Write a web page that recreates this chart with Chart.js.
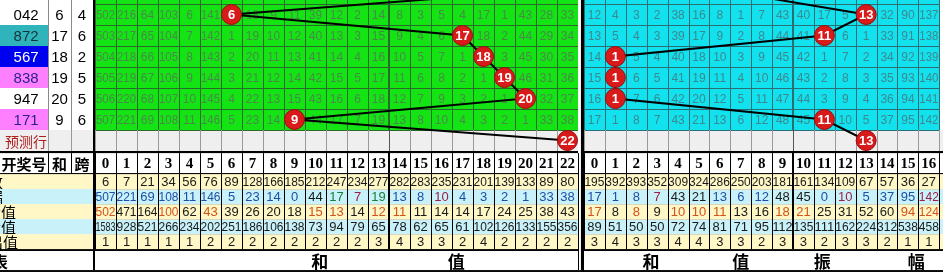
<!DOCTYPE html>
<html>
<head>
<meta charset="utf-8">
<script src="https://cdn.jsdelivr.net/npm/chart.js@4.4.1/dist/chart.umd.min.js"></script>
<style>
  html, body { margin: 0; padding: 0; background: #fff; overflow: hidden; }
</style>
</head>
<body>
<canvas id="trendChart" width="943" height="274"></canvas>
<script>
// ---- data ----
const drawNumbers = ['042', '872', '567', '838', '947', '171'];
const sums = [6, 17, 18, 19, 20, 9];
const spans = [4, 6, 2, 5, 5, 6];
const amps = [13, 11, 1, 1, 1, 11];
const prevSum = 19;      // row just above the visible area
const prevAmp = 7;
const predictSum = 22;
const predictAmp = 13;

const sumCols = ['0','1','2','3','4','5','6','7','8','9','10','11','12','13','14','15','16','17','18','19','20','21','22'];
const ampCols = ['0','1','2','3','4','5','6','7','8','9','10','11','12','13','14','15','16'];

// omission values in the grid (null = hit, drawn as a ball)
const sumMiss = [
  [502,216,64,103,6,141,null,18,9,11,39,12,2,14,8,3,5,4,17,1,43,28,33],
  [503,217,65,104,7,142,1,19,10,12,40,13,3,15,9,4,6,null,18,2,44,29,34],
  [504,218,66,105,8,143,2,20,11,13,41,14,4,16,10,5,7,1,null,3,45,30,35],
  [505,219,67,106,9,144,3,21,12,14,42,15,5,17,11,6,8,2,1,null,46,31,36],
  [506,220,68,107,10,145,4,22,13,15,43,16,6,18,12,7,9,3,2,1,null,32,37],
  [507,221,69,108,11,146,5,23,14,null,44,17,7,19,13,8,10,4,3,2,1,33,38]
];
const ampMiss = [
  [12,4,3,2,38,16,8,1,7,43,40,17,5,null,32,90,137],
  [13,5,4,3,39,17,9,2,8,44,41,null,6,1,33,91,138],
  [14,null,5,4,40,18,10,3,9,45,42,1,7,2,34,92,139],
  [15,null,6,5,41,19,11,4,10,46,43,2,8,3,35,93,140],
  [16,null,7,6,42,20,12,5,11,47,44,3,9,4,36,94,141],
  [17,1,8,7,43,21,13,6,12,48,45,null,10,5,37,95,142]
];

const statLabels = ['出现次数', '当前遗漏', '平均遗漏值', '最大遗漏值', '最大连出值'];
const sumCount   = [6,7,21,34,56,76,89,128,166,185,212,247,234,277,282,283,235,231,201,139,133,89,80];
const sumCurMiss = [507,221,69,108,11,146,5,23,14,0,44,17,7,19,13,8,10,4,3,2,1,33,38];
const sumAvgMiss = [502,471,164,100,62,43,39,26,20,18,15,13,14,12,11,11,14,14,17,24,25,38,43];
const sumMaxMiss = [1583,928,521,266,234,202,251,186,106,138,73,94,79,65,78,62,65,61,102,126,133,155,356];
const sumMaxRun  = [1,1,1,1,1,2,2,2,2,2,2,2,2,3,4,3,3,2,4,2,2,2,2];
const ampCount   = [195,392,393,352,309,324,286,250,203,181,161,134,109,67,57,36,27];
const ampCurMiss = [17,1,8,7,43,21,13,6,12,48,45,0,10,5,37,95,142];
const ampAvgMiss = [17,8,8,9,10,10,11,13,16,18,21,25,31,52,60,94,124];
const ampMaxMiss = [89,51,50,50,72,74,81,71,95,112,135,111,162,224,312,538,458];
const ampMaxRun  = [3,4,3,3,4,4,3,3,2,3,3,2,3,3,2,1,1];

// ---- styles ----
const B = '#1d4fa6', K = '#1a1a1a', G = '#17803a', R = '#9c2046', O = '#d4521c';
const sumCurMissColors = [B,B,B,B,B,B,B,B,B,B,K,G,R,G,B,B,R,B,B,B,B,B,B];
const sumAvgMissColors = [O,K,K,O,K,O,K,K,K,K,O,O,K,O,O,K,K,K,K,K,K,K,K];
const ampCurMissColors = [B,B,B,R,K,K,B,B,B,K,K,B,R,B,B,B,R];
const ampAvgMissColors = [O,K,O,K,O,O,O,K,K,O,O,K,K,K,K,O,O];
const numBgColors = ['#ffffff', '#30b4bc', '#0000f0', '#ff80ff', '#ffffff', '#ff80ff'];
const numTextColors = ['#000000', '#17323a', '#ffffff', '#2a1f8c', '#000000', '#2a1f8c'];

// ---- layout in scale units (1 unit = one grid column / one data row) ----
const X_MIN = -95 / 21, X_MAX = 848 / 21;
const AMP_X0 = 489 / 21;
const AMP_W = 20.9 / 21;
const LEFT_COLS = [[X_MIN, -47 / 21], [-47 / 21, -24 / 21], [-24 / 21, -2 / 21]];
const Y_MIN = -4 / 21, Y_MAX = 270 / 21;
const PRED = [6, 7];
const HEAD = [7.1, 8.05];
const STAT_TOP = 8.1, STAT_H = 15 / 21;
const BOTTOM = [STAT_TOP + 5 * STAT_H + 0.09, 12.67];

const sumCenter = v => v + 0.5;
const ampCenter = v => AMP_X0 + v * AMP_W + AMP_W / 2;

const sumPoints = [{ x: sumCenter(prevSum), y: -0.5 }]
  .concat(sums.map((s, i) => ({ x: sumCenter(s), y: i + 0.5 })))
  .concat([{ x: sumCenter(predictSum), y: 6.5 }]);
const ampPoints = [{ x: ampCenter(prevAmp), y: -0.5 }]
  .concat(amps.map((a, i) => ({ x: ampCenter(a), y: i + 0.5 })))
  .concat([{ x: ampCenter(predictAmp), y: 6.5 }]);
const sumBallText = [''].concat(sums.map(String), [String(predictSum)]);
const ampBallText = [''].concat(amps.map(String), [String(predictAmp)]);

const tablePlugin = {
  id: 'trendTable',
  beforeDatasetsDraw(chart) {
    const { ctx } = chart;
    const xs = chart.scales.x, ys = chart.scales.y;
    const X = v => xs.getPixelForValue(v);
    const Y = v => ys.getPixelForValue(v);

    function rect(x0, x1, y0, y1, fill) {
      ctx.fillStyle = fill;
      ctx.fillRect(X(x0), Y(y0), X(x1) - X(x0), Y(y1) - Y(y0));
    }
    function vline(xv, y0, y1, color, w) {
      const p = Math.round(X(xv)) + (w % 2 ? 0.5 : 0);
      ctx.strokeStyle = color; ctx.lineWidth = w;
      ctx.beginPath(); ctx.moveTo(p, Y(y0)); ctx.lineTo(p, Y(y1)); ctx.stroke();
    }
    function hline(yv, x0, x1, color, w) {
      const p = Math.round(Y(yv)) + (w % 2 ? 0.5 : 0);
      ctx.strokeStyle = color; ctx.lineWidth = w;
      ctx.beginPath(); ctx.moveTo(X(x0), p); ctx.lineTo(X(x1), p); ctx.stroke();
    }
    function text(str, xc, yc, font, color, maxW, align) {
      ctx.font = font; ctx.fillStyle = color;
      ctx.textAlign = align || 'center'; ctx.textBaseline = 'middle';
      if (maxW) ctx.fillText(str, X(xc), Y(yc) + 1, maxW); else ctx.fillText(str, X(xc), Y(yc) + 1);
    }

    ctx.save();
    rect(X_MIN, X_MAX, Y_MIN, Y_MAX, '#ffffff');

    const blocks = [
      { x0: 0, w: 1, cols: sumCols, miss: sumMiss, fill: '#14e414', grid: '#2a6a2a', faint: '#4a884a', divider: 14,
        stats: [sumCount, sumCurMiss, sumAvgMiss, sumMaxMiss, sumMaxRun],
        colors: [null, sumCurMissColors, sumAvgMissColors, null, null] },
      { x0: AMP_X0, w: AMP_W, cols: ampCols, miss: ampMiss, fill: '#12e2ee', grid: '#2b6f76', faint: '#3f8790', divider: 10,
        stats: [ampCount, ampCurMiss, ampAvgMiss, ampMaxMiss, ampMaxRun],
        colors: [null, ampCurMissColors, ampAvgMissColors, null, null] }
    ];

    // left columns of the data rows
    for (let r = -1; r < drawNumbers.length; r++) {
      const bg = r < 0 ? '#ffffff' : numBgColors[r];
      rect(LEFT_COLS[0][0], LEFT_COLS[0][1], r, r + 1, bg);
      rect(LEFT_COLS[1][0], LEFT_COLS[2][1], r, r + 1, '#ffffff');
      hline(r + 1, X_MIN, LEFT_COLS[2][1], '#8a8a8a', 1);
      if (r >= 0) {
        text(drawNumbers[r], (LEFT_COLS[0][0] + LEFT_COLS[0][1]) / 2 + 0.1, r + 0.5, '15px "Liberation Sans"', numTextColors[r]);
        text(String(sums[r]), (LEFT_COLS[1][0] + LEFT_COLS[1][1]) / 2, r + 0.5, '15px "Liberation Sans"', '#000');
        text(String(spans[r]), (LEFT_COLS[2][0] + LEFT_COLS[2][1]) / 2, r + 0.5, '15px "Liberation Sans"', '#000');
      }
    }
    vline(LEFT_COLS[1][0], -1, 6, '#8a8a8a', 1);
    vline(LEFT_COLS[2][0], -1, 6, '#8a8a8a', 1);

    // predict row
    rect(X_MIN, X_MAX, PRED[0], PRED[1], '#efefef');
    text('预测行', (LEFT_COLS[0][0] + LEFT_COLS[0][1]) / 2 + 0.1, 6.5, '14px "Noto Sans CJK SC"', '#b01c1c');
    vline(LEFT_COLS[1][0], PRED[0], PRED[1], '#9a9a9a', 1);
    vline(LEFT_COLS[2][0], PRED[0], PRED[1], '#9a9a9a', 1);

    // header row
    rect(X_MIN, X_MAX, HEAD[0], HEAD[1], '#ffffff');
    text('开奖号', (LEFT_COLS[0][0] + LEFT_COLS[0][1]) / 2, (HEAD[0] + HEAD[1]) / 2, 'bold 15px "Noto Sans CJK SC"', '#000');
    text('和', (LEFT_COLS[1][0] + LEFT_COLS[1][1]) / 2, (HEAD[0] + HEAD[1]) / 2, 'bold 15px "Noto Sans CJK SC"', '#000');
    text('跨', (LEFT_COLS[2][0] + LEFT_COLS[2][1]) / 2, (HEAD[0] + HEAD[1]) / 2, 'bold 15px "Noto Sans CJK SC"', '#000');
    vline(LEFT_COLS[1][0], HEAD[0], HEAD[1], '#000', 1);
    vline(LEFT_COLS[2][0], HEAD[0], HEAD[1], '#000', 1);

    // stat rows
    for (let s = 0; s < statLabels.length; s++) {
      const y0 = STAT_TOP + s * STAT_H, y1 = y0 + STAT_H;
      rect(X_MIN, X_MAX, y0, y1, s % 2 ? '#c9f1f9' : '#fff7c6');
      const rightEdge = s < 2 ? 3 : (s === 4 ? 18 : 16);
      ctx.font = '15px "Noto Sans CJK SC"';
      ctx.fillStyle = '#000'; ctx.textAlign = 'right'; ctx.textBaseline = 'middle';
      ctx.fillText(statLabels[s], rightEdge, Y(y0 + STAT_H / 2) + 1);
    }

    // bottom label row
    rect(X_MIN, X_MAX, BOTTOM[0], BOTTOM[1], '#ffffff');
    ctx.font = 'bold 16px "Noto Sans CJK SC"';
    ctx.fillStyle = '#000'; ctx.textAlign = 'right'; ctx.textBaseline = 'middle';
    ctx.fillText('和值走势表', 8, Y((BOTTOM[0] + BOTTOM[1]) / 2) + 1);

    blocks.forEach(b => {
      const n = b.cols.length;
      const cx = c => b.x0 + c * b.w;
      const x1 = cx(n);
      // data rows
      rect(b.x0, x1, -1, 6, b.fill);
      for (let r = 0; r < b.miss.length; r++) {
        b.miss[r].forEach((v, c) => {
          if (v !== null) text(String(v), cx(c) + b.w / 2, r + 0.5, '12px "Liberation Sans"', b.faint, 19);
        });
      }
      for (let r = 0; r <= 6; r++) hline(r, b.x0, x1, b.grid, 1);
      for (let c = 0; c <= n; c++) vline(cx(c), -1, 6, b.grid, c === b.divider ? 2 : 1);
      // predict row grid
      for (let c = 0; c <= n; c++) vline(cx(c), PRED[0], PRED[1], c === b.divider ? '#555' : '#9a9a9a', 1);
      // header
      b.cols.forEach((lab, c) => text(lab, cx(c) + b.w / 2, (HEAD[0] + HEAD[1]) / 2, 'bold 15px "Liberation Serif"', '#000', 20));
      for (let c = 0; c <= n; c++) vline(cx(c), HEAD[0], HEAD[1], '#000', c === b.divider ? 2 : 1);
      // stats
      b.stats.forEach((row, s) => {
        const y0 = STAT_TOP + s * STAT_H;
        row.forEach((v, c) => {
          const col = b.colors[s] ? b.colors[s][c] : K;
          text(String(v), cx(c) + b.w / 2, y0 + STAT_H / 2, '13px "Liberation Sans"', col, 20);
        });
        if (s > 0) hline(y0, b.x0, x1, '#d8d8c0', 1);
      });
      for (let c = 0; c <= n; c++) vline(cx(c), STAT_TOP, STAT_TOP + 5 * STAT_H, '#000', c === b.divider ? 2 : 1);
    });

    // bottom row captions
    const midY = (BOTTOM[0] + BOTTOM[1]) / 2;
    [['和', 10.7], ['值', 17.2]].forEach(([t, xv]) => text(t, xv, midY, 'bold 17px "Noto Sans CJK SC"', '#000'));
    [['和', ampCenter(2.7)], ['值', ampCenter(7.0)], ['振', ampCenter(10.9)], ['幅', ampCenter(15.4)]]
      .forEach(([t, xv]) => text(t, xv, midY, 'bold 17px "Noto Sans CJK SC"', '#000'));

    // heavy black rules
    const statEnd = STAT_TOP + 5 * STAT_H;
    rect(X_MIN, X_MAX, 7, HEAD[0], '#000');
    rect(X_MIN, X_MAX, HEAD[1], STAT_TOP, '#000');
    rect(X_MIN, X_MAX, statEnd, BOTTOM[0], '#000');
    rect(X_MIN, X_MAX, BOTTOM[1], BOTTOM[1] + 0.09, '#000');
    rect(-0.095, 0, -1, BOTTOM[1], '#000');
    rect(23, 23.14, -1, BOTTOM[1], '#ffffff');
    vline(23, HEAD[0], BOTTOM[1], '#000', 1);
    rect(23.14, AMP_X0, -1, BOTTOM[1] + 0.09, '#000');
    ctx.restore();
  }
};

const ballLabelPlugin = {
  id: 'ballLabels',
  afterDatasetsDraw(chart) {
    const { ctx } = chart;
    const labels = [sumBallText, ampBallText];
    ctx.save();
    ctx.font = 'bold 13px "Liberation Sans"';
    ctx.fillStyle = '#ffffff';
    ctx.textAlign = 'center';
    ctx.textBaseline = 'middle';
    chart.data.datasets.forEach((ds, i) => {
      chart.getDatasetMeta(i).data.forEach((pt, j) => {
        if (labels[i][j]) ctx.fillText(labels[i][j], pt.x, pt.y + 1);
      });
    });
    ctx.restore();
  }
};

const ballRadius = [0, 10, 10, 10, 10, 10, 10, 10];

const ctx = document.getElementById('trendChart').getContext('2d');
new Chart(ctx, {
  type: 'line',
  data: {
    datasets: [
      { data: sumPoints, borderColor: '#000', borderWidth: 2, tension: 0,
        pointRadius: ballRadius, pointBackgroundColor: '#d81a1a', pointBorderColor: '#9a0c0c', pointBorderWidth: 1 },
      { data: ampPoints, borderColor: '#000', borderWidth: 2, tension: 0,
        pointRadius: ballRadius, pointBackgroundColor: '#d81a1a', pointBorderColor: '#9a0c0c', pointBorderWidth: 1 }
    ]
  },
  options: {
    responsive: false,
    animation: false,
    devicePixelRatio: 1,
    layout: { padding: 0, autoPadding: false },
    scales: {
      x: { type: 'linear', display: false, min: X_MIN, max: X_MAX },
      y: { type: 'linear', display: false, reverse: true, min: Y_MIN, max: Y_MAX }
    },
    plugins: { legend: { display: false }, tooltip: { enabled: false } }
  },
  plugins: [tablePlugin, ballLabelPlugin]
});
</script>
</body>
</html>
